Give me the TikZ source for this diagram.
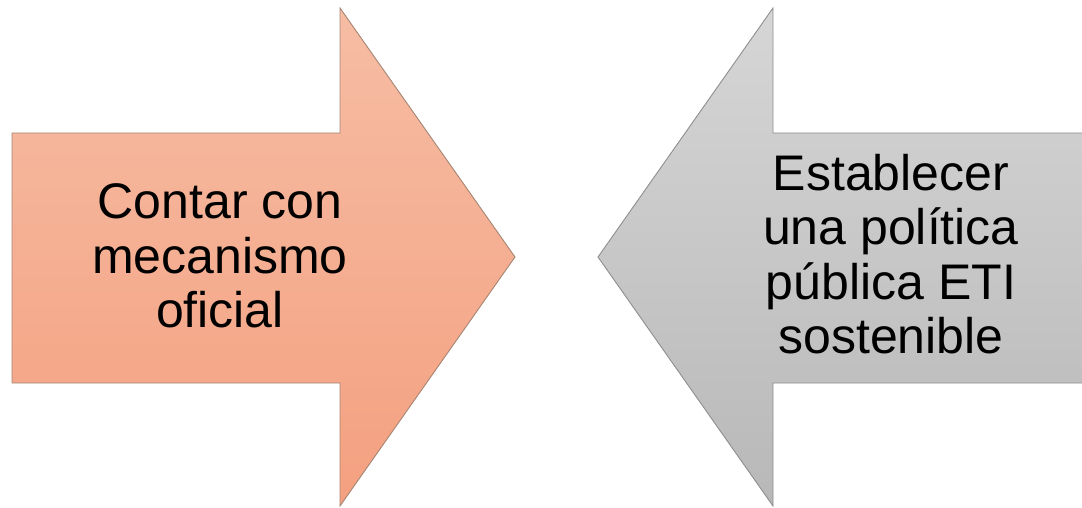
\documentclass[tikz,border=0pt]{standalone}
\usepackage{fontspec}
\setmainfont{Liberation Sans}
\tikzset{
  leftarrow/.style={top color=salmonTop, bottom color=salmonBot, draw=salmonEdge, line width=0.9pt, line join=miter},
  rightarrow/.style={top color=grayTop, bottom color=grayBot, draw=grayEdge, line width=0.9pt, line join=miter},
  label/.style={align=center, font=\fontsize{50}{54.5}\selectfont, text=black, inner sep=0pt}
}
\definecolor{salmonTop}{HTML}{F6BDA4}
\definecolor{salmonBot}{HTML}{F4A080}
\definecolor{salmonEdge}{HTML}{A58573}
\definecolor{grayTop}{HTML}{D6D6D6}
\definecolor{grayBot}{HTML}{B8B8B8}
\definecolor{grayEdge}{HTML}{8E8E8E}
\begin{document}
\begin{tikzpicture}[x=1pt,y=-1pt]
\useasboundingbox (0,0) rectangle (1082,508);
\path[leftarrow] (12,133) -- (340,133) -- (340,8) -- (515,257) -- (340,506) -- (340,383) -- (12,383) -- cycle;
\path[rightarrow] (1095,133) -- (773,133) -- (773,8) -- (598,257) -- (773,506) -- (773,383) -- (1095,383) -- cycle;
\node[label] (lefttext) at (220,256) {Contar con\\mecanismo\\oficial};
\node[label] (righttext) at (891,254) {Establecer\\una política\\pública ETI\\sostenible};
\end{tikzpicture}
\end{document}
